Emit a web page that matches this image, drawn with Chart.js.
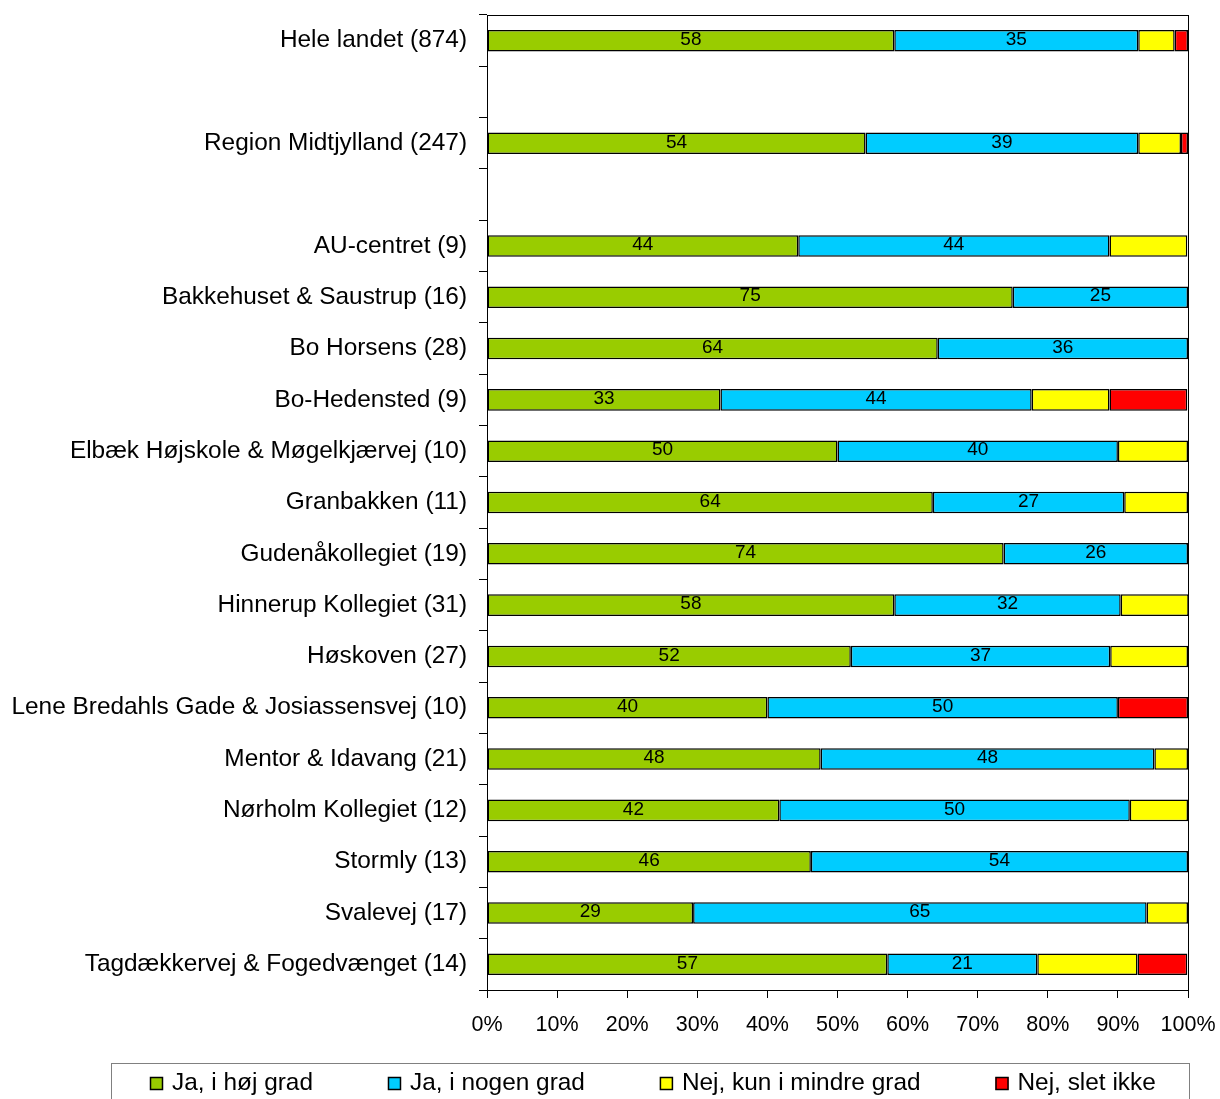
<!DOCTYPE html>
<html>
<head>
<meta charset="utf-8">
<script src="https://cdn.jsdelivr.net/npm/chart.js@4"></script>
<style>
  html, body { margin: 0; padding: 0; background: #fff; }
  #wrap { width: 1220px; height: 1099px; }
</style>
</head>
<body>
<div id="wrap"><canvas id="chart" width="1220" height="1099"></canvas></div>
<script>
// categories (empty strings are the spacer rows)
const categories = [
    'Hele landet (874)', '', 'Region Midtjylland (247)', '',
    'AU-centret (9)', 'Bakkehuset & Saustrup (16)', 'Bo Horsens (28)', 'Bo-Hedensted (9)',
    'Elbæk Højskole & Møgelkjærvej (10)', 'Granbakken (11)', 'Gudenåkollegiet (19)',
    'Hinnerup Kollegiet (31)', 'Høskoven (27)', 'Lene Bredahls Gade & Josiassensvej (10)',
    'Mentor & Idavang (21)', 'Nørholm Kollegiet (12)', 'Stormly (13)', 'Svalevej (17)',
    'Tagdækkervej & Fogedvænget (14)'
];

const seriesNames = ['Ja, i høj grad', 'Ja, i nogen grad', 'Nej, kun i mindre grad', 'Nej, slet ikke'];

// percentages per row
const jaHoej    = [58.1, null, 54.0, null, 44.4, 75.0, 64.3, 33.3, 50.0, 63.6, 73.7, 58.1, 51.9, 40.0, 47.6, 41.7, 46.2, 29.4, 57.1];
const jaNogen   = [34.8, null, 38.9, null, 44.4, 25.0, 35.7, 44.4, 40.0, 27.3, 26.3, 32.3, 37.0, 50.0, 47.6, 50.0, 53.8, 64.7, 21.4];
const nejMindre = [5.2,  null, 6.1,  null, 11.1, 0,    0,    11.1, 10.0, 9.1,  0,    9.7,  11.1, 0,    4.8,  8.3,  0,    5.9,  14.3];
const nejSlet   = [1.9,  null, 1.0,  null, 0,    0,    0,    11.1, 0,    0,    0,    0,    0,    10.0, 0,    0,    0,    0,    7.1];

const xTicks = [0, 10, 20, 30, 40, 50, 60, 70, 80, 90, 100];

const colors = ['#99CC00', '#00CCFF', '#FFFF00', '#FF0000'];
const FONT = '"Liberation Sans", Arial, sans-serif';

// value labels for the first two series
const valueLabels = {
    id: 'valueLabels',
    afterDatasetsDraw(chart) {
        const ctx = chart.ctx;
        ctx.save();
        ctx.font = '19px ' + FONT;
        ctx.fillStyle = '#000';
        ctx.textAlign = 'center';
        ctx.textBaseline = 'middle';
        [0, 1].forEach(di => {
            const meta = chart.getDatasetMeta(di);
            meta.data.forEach((el, i) => {
                const v = chart.data.datasets[di].data[i];
                if (!v) return;
                ctx.fillText(Math.round(v), (el.x + el.base) / 2, el.y - 1);
            });
        });
        ctx.restore();
    }
};

// frame round the plot area
const plotFrame = {
    id: 'plotFrame',
    afterDraw(chart) {
        const { ctx, chartArea: a } = chart;
        ctx.save();
        ctx.strokeStyle = '#000';
        ctx.lineWidth = 1;
        ctx.strokeRect(Math.round(a.left) + 0.5, Math.round(a.top) + 0.5,
            Math.round(a.right - a.left), Math.round(a.bottom - a.top));
        ctx.restore();
    }
};

// boxed legend at the bottom
const boxLegend = {
    id: 'boxLegend',
    afterDraw(chart) {
        const ctx = chart.ctx;
        ctx.save();
        ctx.strokeStyle = '#808080';
        ctx.lineWidth = 1;
        ctx.strokeRect(111.5, 1063.5, 1078, 60);
        ctx.font = '24.4px ' + FONT;
        ctx.textBaseline = 'middle';
        ctx.textAlign = 'left';
        let x = 150;
        const y = 1083;
        chart.data.datasets.forEach(ds => {
            ctx.fillStyle = ds.backgroundColor;
            ctx.fillRect(x, y - 6, 13, 13);
            ctx.strokeStyle = '#000';
            ctx.lineWidth = 1.5;
            ctx.strokeRect(x + 0.5, y - 5.5, 12, 12);
            ctx.fillStyle = '#000';
            ctx.fillText(ds.label, x + 22, y);
            x += 22 + ctx.measureText(ds.label).width + 75;
        });
        ctx.restore();
    }
};

const ctx = document.getElementById('chart').getContext('2d');
new Chart(ctx, {
    type: 'bar',
    data: {
        labels: categories,
        datasets: [jaHoej, jaNogen, nejMindre, nejSlet].map((d, i) => ({
            label: seriesNames[i],
            data: d,
            backgroundColor: colors[i],
            borderColor: '#000',
            borderWidth: 1.5,
            borderSkipped: false,
            categoryPercentage: 1,
            barPercentage: 0.42
        }))
    },
    options: {
        indexAxis: 'y',
        responsive: false,
        animation: false,
        devicePixelRatio: 1,
        layout: { padding: { top: 15, right: 32, bottom: 59, left: 0 } },
        plugins: { legend: { display: false }, tooltip: { enabled: false } },
        scales: {
            x: {
                stacked: true,
                min: 0,
                max: 100,
                afterBuildTicks: s => { s.ticks = xTicks.map(v => ({ value: v })); },
                afterFit: s => { s.height = 50; s.paddingLeft = 0; s.paddingRight = 0; },
                ticks: {
                    callback: v => v + '%',
                    color: '#000',
                    font: { family: FONT, size: 21.5 },
                    padding: 14,
                    maxRotation: 0
                },
                grid: { drawOnChartArea: false, color: '#000', tickLength: 8, tickColor: '#000' },
                border: { color: '#000', width: 1 }
            },
            y: {
                stacked: true,
                afterFit: s => { s.width = 487; s.paddingTop = 0; s.paddingBottom = 0; },
                ticks: {
                    color: '#000',
                    font: { family: FONT, size: 24.4 },
                    padding: 12,
                    autoSkip: false
                },
                grid: { drawOnChartArea: false, offset: true, color: '#000', tickLength: 8, tickColor: '#000' },
                border: { color: '#000', width: 1 }
            }
        }
    },
    plugins: [valueLabels, plotFrame, boxLegend]
});
</script>
</body>
</html>
